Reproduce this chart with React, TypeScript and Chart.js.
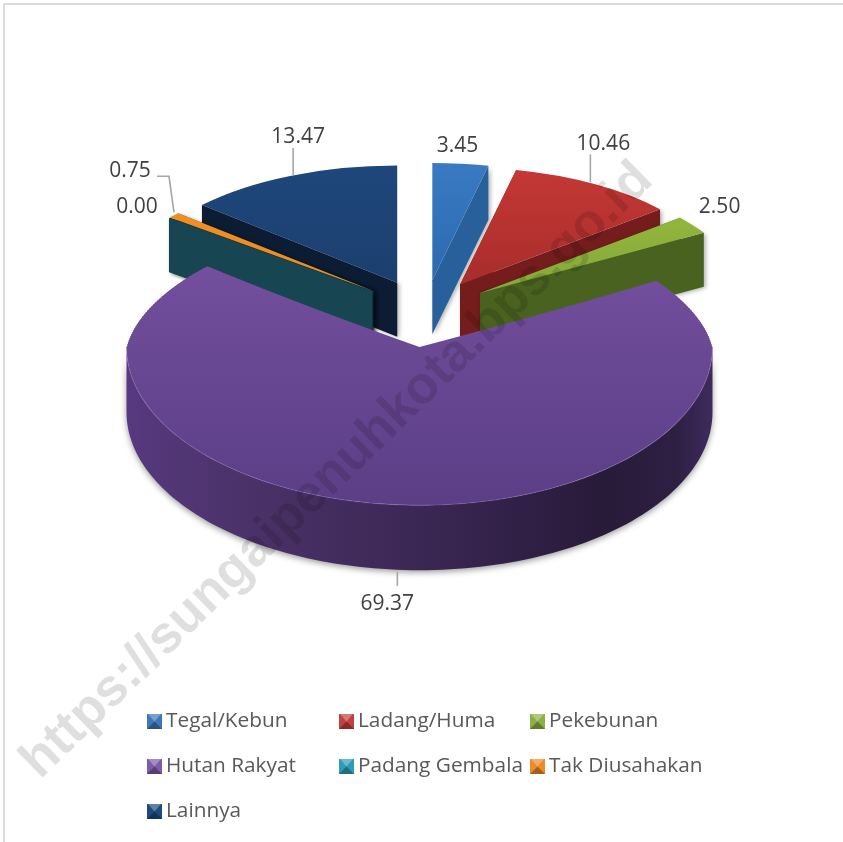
import React, { useEffect, useRef } from "react";
import { Chart, registerables } from "chart.js";

Chart.register(...registerables);

const categories = ["Tegal/Kebun", "Ladang/Huma", "Pekebunan", "Hutan Rakyat", "Padang Gembala", "Tak Diusahakan", "Lainnya"];
const shares = [3.45, 10.46, 2.5, 69.37, 0.0, 0.75, 13.47];
const shareLabels = ["3.45", "10.46", "2.50", "69.37", "0.00", "0.75", "13.47"];

const sliceExplode = [76, 76, 76, 0, 76, 76, 76];
const topLight = ["#3d7ec8", "#cc3b38", "#9dc343", "#7d56a7", "#1d6a7c", "#f7931e", "#20497f"];
const topDark = ["#2b6aae", "#a82d2b", "#85a838", "#5b3e86", "#174552", "#f08a1d", "#1b3f6e"];
const wallColors = ["#28609c", "#751d1d", "#4a6220", "#3d2a5a", "#174552", "#174552", "#0b1c33"];
const legendColors = ["#3f78b8", "#c0413e", "#8cb044", "#7c5ba8", "#2c9cb8", "#ee8a2a", "#1f4a7f"];

const wallOrder = [6, 5, 4, 0, 1, 2];
const topOrder = [6, 5, 4, 0, 1, 2, 3];

const BACK = { cx: 425, cy: 310.5, sx: 0.89, sy: 0.4, depth: 54 };
const FRONT = { cx: 419.5, cy: 347, syUp: 0.44, syDown: 0.54, depth: 65, taper: 0.07 / 81, stripTop: 258 };

const labelNudge = [[-3, -18], [8, -40], [27, -18], [-12, 34], [-32, -11], [-44, -44], [8, -39]];
const leaders: number[][][] = [
  [],
  [[-5, -30], [-5, -2]],
  [],
  [[-2, 2], [-2, 16]],
  [],
  [[-17, -39], [-5, -39], [0, -3]],
  [[3, -28], [3, -1]],
];
const legendX = [147, 339, 530];
const legendY = [721.5, 766.5, 811.5];

type View = { cx: number; cy: number; sx: number; sy: number };

const project = (arc: any, i: number, angle: number, radius: number, v: View) => {
  const mid = (arc.startAngle + arc.endAngle) / 2;
  const off = sliceExplode[i];
  return {
    x: v.cx + v.sx * (Math.cos(angle) * radius + Math.cos(mid) * off),
    y: v.cy + v.sy * (Math.sin(angle) * radius + Math.sin(mid) * off),
  };
};

const drawArc = (ctx: CanvasRenderingContext2D, arc: any, i: number, v: View) => {
  const mid = (arc.startAngle + arc.endAngle) / 2;
  ctx.save();
  ctx.translate(v.cx, v.cy);
  ctx.scale(v.sx, v.sy);
  ctx.translate(Math.cos(mid) * sliceExplode[i] - arc.x, Math.sin(mid) * sliceExplode[i] - arc.y);
  arc.draw(ctx);
  ctx.restore();
};

const quad = (ctx: CanvasRenderingContext2D, a: any, b: any, depth: number) => {
  ctx.beginPath();
  ctx.moveTo(a.x, a.y);
  ctx.lineTo(b.x, b.y);
  ctx.lineTo(b.x, b.y + depth);
  ctx.lineTo(a.x, a.y + depth);
  ctx.closePath();
  ctx.fill();
};

const pie3d = {
  id: "pie3d",
  beforeDatasetDraw(chart: any, args: any) {
    const ctx: CanvasRenderingContext2D = chart.ctx;
    const arcs = args.meta.data;
    const backView: View = { cx: BACK.cx, cy: BACK.cy, sx: BACK.sx, sy: BACK.sy };

    wallOrder.forEach((i) => {
      const arc = arcs[i];
      const r = arc.outerRadius;
      const apex = project(arc, i, 0, 0, backView);
      ctx.save();
      ctx.fillStyle = wallColors[i];
      ctx.shadowColor = "rgba(0,0,0,0.3)";
      ctx.shadowBlur = 4;
      ctx.shadowOffsetX = 2;
      ctx.shadowOffsetY = 1;
      quad(ctx, apex, project(arc, i, arc.startAngle, r, backView), BACK.depth);
      quad(ctx, apex, project(arc, i, arc.endAngle, r, backView), BACK.depth);
      ctx.restore();
    });

    // outer wall of the big slice
    const big = arcs[3];
    const R = big.outerRadius;
    const down: View = { cx: FRONT.cx, cy: FRONT.cy, sx: 1, sy: FRONT.syDown };
    const grad = ctx.createLinearGradient(FRONT.cx - R, 0, FRONT.cx + R, 0);
    grad.addColorStop(0, "#56397f");
    grad.addColorStop(0.2, "#4b3269");
    grad.addColorStop(0.5, "#3b2754");
    grad.addColorStop(0.82, "#281a39");
    grad.addColorStop(0.94, "#2e2043");
    grad.addColorStop(1, "#3e2b5c");
    ctx.save();
    ctx.fillStyle = grad;
    ctx.shadowColor = "rgba(0,0,0,0.4)";
    ctx.shadowBlur = 6;
    ctx.shadowOffsetY = 2;
    ctx.beginPath();
    const steps = 120;
    for (let s = 0; s <= steps; s++) {
      const p = project(big, 3, (Math.PI * s) / steps, R, down);
      if (s === 0) ctx.moveTo(p.x, p.y);
      else ctx.lineTo(p.x, p.y);
    }
    for (let s = steps; s >= 0; s--) {
      const p = project(big, 3, (Math.PI * s) / steps, R, down);
      ctx.lineTo(p.x, p.y + FRONT.depth);
    }
    ctx.closePath();
    ctx.fill();
    ctx.restore();

    topOrder.forEach((i) => {
      const arc = arcs[i];
      if (i !== 3) {
        drawArc(ctx, arc, i, backView);
        return;
      }
      // far half narrows row by row, to imitate the perspective of the reference
      for (let y = FRONT.stripTop; y < FRONT.cy; y += 2) {
        ctx.save();
        ctx.beginPath();
        ctx.rect(0, y, chart.width, 2);
        ctx.clip();
        drawArc(ctx, arc, i, { cx: FRONT.cx, cy: FRONT.cy, sx: 1 - (FRONT.cy - y) * FRONT.taper, sy: FRONT.syUp });
        ctx.restore();
      }
      ctx.save();
      ctx.beginPath();
      ctx.rect(0, FRONT.cy, chart.width, chart.height - FRONT.cy);
      ctx.clip();
      drawArc(ctx, arc, i, down);
      ctx.restore();
    });

    // light rim along the front of the big slice
    ctx.save();
    ctx.strokeStyle = "rgba(150,120,200,0.35)";
    ctx.lineWidth = 1.2;
    ctx.beginPath();
    for (let s = 0; s <= steps; s++) {
      const p = project(big, 3, (Math.PI * s) / steps, R, down);
      if (s === 0) ctx.moveTo(p.x, p.y);
      else ctx.lineTo(p.x, p.y);
    }
    ctx.stroke();
    ctx.restore();
    return false;
  },
  afterDraw(chart: any) {
    const ctx: CanvasRenderingContext2D = chart.ctx;
    const arcs = chart.getDatasetMeta(0).data;
    const backView: View = { cx: BACK.cx, cy: BACK.cy, sx: BACK.sx, sy: BACK.sy };
    const down: View = { cx: FRONT.cx, cy: FRONT.cy, sx: 1, sy: FRONT.syDown };

    arcs.forEach((arc: any, i: number) => {
      const mid = (arc.startAngle + arc.endAngle) / 2;
      const rim = i === 3 ? project(arc, i, mid, arc.outerRadius, down) : project(arc, i, mid, arc.outerRadius, backView);
      if (i === 3) rim.y += FRONT.depth;
      ctx.save();
      if (leaders[i].length) {
        ctx.strokeStyle = "#a6a6a6";
        ctx.lineWidth = 1.6;
        ctx.beginPath();
        leaders[i].forEach((p, k) => {
          if (k === 0) ctx.moveTo(rim.x + p[0], rim.y + p[1]);
          else ctx.lineTo(rim.x + p[0], rim.y + p[1]);
        });
        ctx.stroke();
      }
      ctx.fillStyle = "#404040";
      ctx.font = "21px 'Open Sans'";
      ctx.textAlign = "center";
      ctx.textBaseline = "middle";
      ctx.fillText(shareLabels[i], rim.x + labelNudge[i][0], rim.y + labelNudge[i][1]);
      ctx.restore();
    });

    chart.data.labels.forEach((name: string, i: number) => {
      const x = legendX[i % 3];
      const y = legendY[Math.floor(i / 3)];
      const s = 15;
      const l = x;
      const t = Math.round(y - 8);
      const c = legendColors[i];
      ctx.save();
      ctx.fillStyle = c;
      ctx.fillRect(l, t, s, s);
      ctx.fillStyle = "rgba(255,255,255,0.3)";
      ctx.beginPath();
      ctx.moveTo(l + 1, t);
      ctx.lineTo(l + s - 1, t);
      ctx.lineTo(l + s / 2, t + s / 2);
      ctx.closePath();
      ctx.fill();
      ctx.fillStyle = "rgba(0,0,0,0.3)";
      ctx.beginPath();
      ctx.moveTo(l, t + s);
      ctx.lineTo(l + s, t + s);
      ctx.lineTo(l + s / 2, t + s / 2);
      ctx.closePath();
      ctx.fill();
      ctx.fillStyle = "#595959";
      ctx.font = "20.8px 'Open Sans'";
      ctx.textAlign = "left";
      ctx.textBaseline = "middle";
      ctx.fillText(name, x + 19, y);
      ctx.restore();
    });

    ctx.save();
    ctx.translate(40, 780);
    ctx.rotate((-44.2 * Math.PI) / 180);
    ctx.fillStyle = "rgba(0,0,0,0.125)";
    ctx.font = "bold 52.5px 'Liberation Sans'";
    ctx.textAlign = "left";
    ctx.textBaseline = "alphabetic";
    ctx.fillText("https://sungaipenuhkota.bps.go.id", 0, 0);
    ctx.restore();

    ctx.save();
    ctx.fillStyle = "#dcdcdc";
    ctx.fillRect(3, 3, chart.width - 3, 2);
    ctx.fillRect(3, 3, 2, chart.height - 3);
    ctx.restore();
  },
};

export default function App() {
  const ref = useRef<HTMLCanvasElement | null>(null);
  useEffect(() => {
    if (!ref.current) return;
    const chart = new Chart(ref.current, {
      type: "pie",
      data: {
        labels: categories,
        datasets: [
          {
            data: shares,
            radius: 293,
            borderWidth: 0,
            backgroundColor: (c: any) => {
              const i = c.dataIndex;
              if (i === undefined) return "#000";
              const g = c.chart.ctx.createLinearGradient(0, 421 - 293 - 76, 0, i === 3 ? 421 + 293 : 421);
              g.addColorStop(0, topLight[i]);
              g.addColorStop(1, topDark[i]);
              return g;
            },
          } as any,
        ],
      },
      options: {
        responsive: false,
        animation: false,
        devicePixelRatio: 1,
        layout: { padding: 0 },
        plugins: { legend: { display: false }, tooltip: { enabled: false }, title: { display: false } },
      } as any,
      plugins: [pie3d],
    });
    return () => chart.destroy();
  }, []);
  return (
    <div style={{ position: "absolute", left: 0, top: 0, width: 843, height: 842, background: "#fff" }}>
      <canvas ref={ref} width={843} height={842} style={{ display: "block" }} />
    </div>
  );
}
